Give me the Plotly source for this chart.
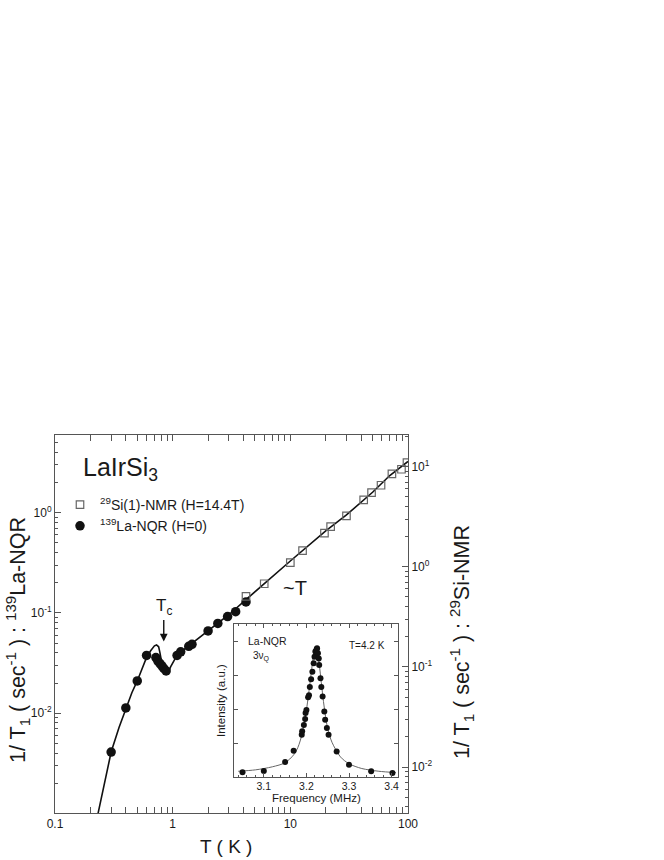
import plotly.graph_objects as go
import math

# ---------------- data ----------------
# 139La-NQR (left axis), T in K, 1/T1 in sec^-1
la_T = [0.3, 0.4, 0.5, 0.6, 0.72, 0.75, 0.78, 0.81, 0.84, 0.88,
        1.09, 1.17, 1.37, 1.46, 2.0, 2.42, 2.93, 3.43, 4.2]
la_val = [0.0041, 0.0113, 0.021, 0.0377, 0.0359, 0.0330, 0.0313, 0.0296, 0.0280, 0.0264,
          0.0377, 0.041, 0.0465, 0.0487, 0.0662, 0.0787, 0.092, 0.103, 0.129]

# 29Si(1)-NMR (right axis)
si_T = [4.2, 6, 10, 12.7, 19.5, 22, 30, 42, 49, 59, 73, 88, 98]
si_val = [0.506, 0.677, 1.10, 1.45, 2.17, 2.52, 3.22, 4.66, 5.5, 6.52, 8.45, 9.42, 10.96]

# solid guide curve (left-axis units)
fit_T = [0.23, 0.26, 0.3, 0.35, 0.4, 0.45, 0.5, 0.55, 0.6, 0.65, 0.7, 0.73, 0.76, 0.78, 0.80,
         0.83, 0.87, 0.91, 0.96, 1.0, 1.05, 1.1, 1.5, 2.0, 3.0, 4.2, 6.0, 10, 20, 30, 50, 70, 100]
fit_val = [0.00095, 0.0019, 0.0041, 0.0072, 0.0113, 0.016, 0.021, 0.028, 0.036, 0.042, 0.047, 0.048,
           0.046, 0.040, 0.034, 0.030, 0.027, 0.025, 0.029, 0.032, 0.035, 0.0385, 0.051,
           0.066, 0.096, 0.136, 0.197, 0.33, 0.66, 0.95, 1.6, 2.35, 3.25]

# inset: La-NQR spectrum at 4.2 K
freq = [3.05, 3.10, 3.15, 3.17, 3.189, 3.190, 3.194, 3.197, 3.198, 3.200, 3.204, 3.206, 3.208,
        3.211, 3.214, 3.217, 3.219, 3.221, 3.224, 3.225, 3.227, 3.229, 3.230, 3.233, 3.235,
        3.238, 3.242, 3.244, 3.248, 3.252, 3.271, 3.300, 3.352, 3.402]
inten = [0.17, 0.21, 0.47, 0.80, 1.27, 1.37, 1.56, 1.73, 1.91, 2.0, 2.37, 2.43, 2.67,
         2.9, 3.12, 3.37, 3.56, 3.71, 3.78, 3.81, 3.66, 3.51, 3.32, 2.93, 2.67,
         2.39, 1.95, 1.71, 1.47, 1.27, 0.78, 0.39, 0.2, 0.15]
fit_f = [3.04, 3.08, 3.12, 3.15, 3.17, 3.18, 3.19, 3.20, 3.205, 3.21, 3.215, 3.22, 3.225,
         3.23, 3.235, 3.24, 3.245, 3.25, 3.26, 3.28, 3.30, 3.33, 3.37, 3.41]
fit_i = [0.2, 0.24, 0.33, 0.45, 0.68, 0.9, 1.3, 2.0, 2.45, 2.95, 3.45, 3.78, 3.75,
         3.35, 2.8, 2.25, 1.8, 1.45, 1.05, 0.62, 0.42, 0.28, 0.2, 0.16]

x_ticks = [0.1, 1, 10, 100]
x_ticktext = ["0.1", "1", "10", "100"]
yl_ticks = [0.01, 0.1, 1]
yl_ticktext = ["10<sup>-2</sup>", "10<sup>-1</sup>", "10<sup>0</sup>"]
yr_ticks = [0.01, 0.1, 1, 10]
yr_ticktext = ["10<sup>-2</sup>", "10<sup>-1</sup>", "10<sup>0</sup>", "10<sup>1</sup>"]
f_ticks = [3.1, 3.2, 3.3, 3.4]
f_ticktext = ["3.1", "3.2", "3.3", "3.4"]

# ---------------- layout geometry (screen pixels) ----------------
W, H = 664, 860
L, R, T, B = 55, 408, 435, 813
FONT = "Liberation Sans, Arial, Helvetica, sans-serif"
TXT = "#1a1a1a"
AX = "#555555"


def px(xs):
    return (xs - L) / (R - L)


def py(ys):
    return (B - ys) / (B - T)


def minor_log(lo, hi):
    out = []
    for e in range(lo, hi):
        for m in range(2, 10):
            out.append(m * 10 ** e)
    return out


fig = go.Figure()

fig.add_trace(go.Scatter(x=fit_T, y=fit_val, mode="lines", line=dict(color="#111111", width=1.6),
                         showlegend=False, hoverinfo="skip", xaxis="x", yaxis="y"))
fig.add_trace(go.Scatter(x=si_T, y=si_val, mode="markers", name="<sup>29</sup>Si(1)-NMR (H=14.4T)",
                         marker=dict(symbol="square-open", size=7.5, color="#666666", line=dict(width=1.2)),
                         xaxis="x", yaxis="y2"))
fig.add_trace(go.Scatter(x=la_T, y=la_val, mode="markers", name="<sup>139</sup>La-NQR (H=0)",
                         marker=dict(symbol="circle", size=9.5, color="#111111"),
                         xaxis="x", yaxis="y"))

# inset
fig.add_trace(go.Scatter(x=fit_f, y=fit_i, mode="lines",
                         line=dict(color="#666666", width=1, shape="spline", smoothing=0.8),
                         showlegend=False, hoverinfo="skip", xaxis="x3", yaxis="y3"))
fig.add_trace(go.Scatter(x=freq, y=inten, mode="markers", marker=dict(symbol="circle", size=6, color="#111111"),
                         showlegend=False, xaxis="x3", yaxis="y3"))

tickfont = dict(family=FONT, size=12, color=TXT)

fig.update_layout(
    width=W, height=H,
    margin=dict(l=L, r=W - R, t=T, b=H - B),
    paper_bgcolor="white", plot_bgcolor="white",
    font=dict(family=FONT, color=TXT),
    showlegend=True,
    legend=dict(x=px(60), y=py(489), xanchor="left", yanchor="top", bgcolor="rgba(0,0,0,0)",
                font=dict(family=FONT, size=14, color=TXT), itemsizing="trace"),
    xaxis=dict(type="log", range=[-1, 2], domain=[0, 1], anchor="y",
               showline=True, linecolor=AX, linewidth=1, mirror="allticks",
               ticks="inside", ticklen=6, tickcolor=AX, tickwidth=1,
               tickvals=x_ticks, ticktext=x_ticktext, tickfont=tickfont,
               minor=dict(ticks="inside", ticklen=3, tickcolor=AX, tickvals=minor_log(-1, 2)),
               showgrid=False, zeroline=False, automargin=False),
    yaxis=dict(type="log", range=[-2.995, 0.775], domain=[0, 1], anchor="x",
               showline=True, linecolor=AX, linewidth=1,
               ticks="inside", ticklen=6, tickcolor=AX, tickwidth=1,
               tickvals=yl_ticks, ticktext=yl_ticktext, tickfont=tickfont,
               minor=dict(ticks="inside", ticklen=3, tickcolor=AX, tickvals=minor_log(-3, 1)),
               showgrid=False, zeroline=False, automargin=False),
    yaxis2=dict(type="log", range=[-2.459, 1.316], overlaying="y", side="right", anchor="x",
                showline=True, linecolor=AX, linewidth=1,
                ticks="inside", ticklen=6, tickcolor=AX, tickwidth=1,
                tickvals=yr_ticks, ticktext=yr_ticktext, tickfont=tickfont,
                minor=dict(ticks="inside", ticklen=3, tickcolor=AX, tickvals=minor_log(-3, 2)),
                showgrid=False, zeroline=False, automargin=False),
    xaxis3=dict(domain=[px(234), px(398)], anchor="y3", range=[3.03, 3.415],
                showline=True, linecolor=AX, linewidth=1, mirror="allticks",
                ticks="inside", ticklen=4, tickcolor=AX,
                tickvals=f_ticks, ticktext=f_ticktext, tickfont=dict(family=FONT, size=10.5, color=TXT),
                minor=dict(ticks="inside", ticklen=2, tickcolor=AX, dtick=0.02),
                showgrid=False, zeroline=False, automargin=False),
    yaxis3=dict(domain=[py(776.7), py(624)], anchor="x3", range=[0.04, 4.52],
                showline=True, linecolor=AX, linewidth=1, mirror="ticks",
                ticks="inside", ticklen=4, tickcolor=AX, tickvals=[1, 2, 3, 4],
                showticklabels=False, showgrid=False, zeroline=False, automargin=False),
)

ann = []
# compound label
ann.append(dict(text="LaIrSi<sub>3</sub>", xref="paper", yref="paper", x=px(81), y=py(469),
                xanchor="left", yanchor="middle", showarrow=False,
                font=dict(family=FONT, size=25, color=TXT)))
# Tc arrow
ann.append(dict(text="T<sub>c</sub>", xref="x", yref="y", x=math.log10(0.84), y=math.log10(0.052),
                ax=0, ay=-34, showarrow=True, arrowhead=2, arrowsize=1.1, arrowwidth=1.4,
                arrowcolor="#111111", font=dict(family=FONT, size=17, color=TXT)))
# ~T
ann.append(dict(text="~T", xref="paper", yref="paper", x=px(295), y=py(588),
                xanchor="center", yanchor="middle", showarrow=False,
                font=dict(family=FONT, size=20, color=TXT)))
# axis titles
ann.append(dict(text="1/ T<sub>1</sub> ( sec<sup>-1</sup> ) : <sup>139</sup>La-NQR", xref="paper", yref="paper",
                x=px(17), y=py(640), textangle=-90, xanchor="center", yanchor="middle", showarrow=False,
                font=dict(family=FONT, size=21.5, color=TXT)))
ann.append(dict(text="1/ T<sub>1</sub> ( sec<sup>-1</sup> ) : <sup>29</sup>Si-NMR", xref="paper", yref="paper",
                x=px(461), y=py(642), textangle=-90, xanchor="center", yanchor="middle", showarrow=False,
                font=dict(family=FONT, size=21.5, color=TXT)))
ann.append(dict(text="T ( K )", xref="paper", yref="paper", x=px(226), y=py(846),
                xanchor="center", yanchor="middle", showarrow=False,
                font=dict(family=FONT, size=19, color=TXT)))
# inset texts
ann.append(dict(text="La-NQR", xref="paper", yref="paper", x=px(246), y=py(641),
                xanchor="left", yanchor="middle", showarrow=False,
                font=dict(family=FONT, size=10.5, color=TXT)))
ann.append(dict(text="3ν<sub>Q</sub>", xref="paper", yref="paper", x=px(251), y=py(656),
                xanchor="left", yanchor="middle", showarrow=False,
                font=dict(family=FONT, size=10, color=TXT)))
ann.append(dict(text="T=4.2 K", xref="paper", yref="paper", x=px(387), y=py(645),
                xanchor="right", yanchor="middle", showarrow=False,
                font=dict(family=FONT, size=10, color=TXT)))
ann.append(dict(text="Intensity (a.u.)", xref="paper", yref="paper", x=px(221), y=py(701),
                textangle=-90, xanchor="center", yanchor="middle", showarrow=False,
                font=dict(family=FONT, size=11.5, color=TXT)))
ann.append(dict(text="Frequency (MHz)", xref="paper", yref="paper", x=px(316), y=py(798),
                xanchor="center", yanchor="middle", showarrow=False,
                font=dict(family=FONT, size=11.5, color=TXT)))
fig.update_layout(annotations=ann)

# remove the page's default 8px body margin so the figure sits at the window origin
fig.write_html("out.html", config={"displayModeBar": False},
               post_script="document.body.style.margin='0px';")
